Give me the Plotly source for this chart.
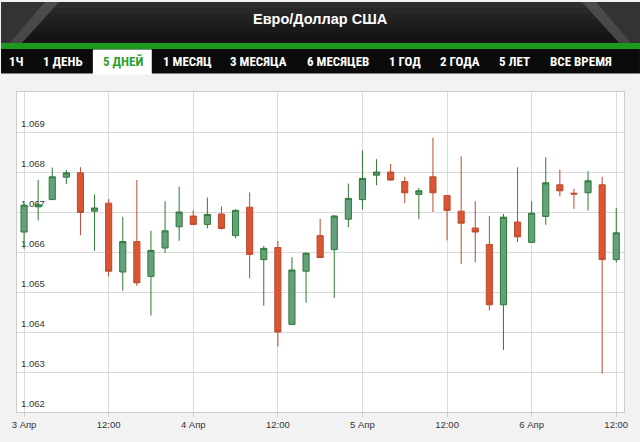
import plotly.graph_objects as go

# ---- data (2-hour candles, EUR/USD) ----
times = [
    "2017-04-03 00:00", "2017-04-03 02:00", "2017-04-03 04:00", "2017-04-03 06:00",
    "2017-04-03 08:00", "2017-04-03 10:00", "2017-04-03 12:00", "2017-04-03 14:00",
    "2017-04-03 16:00", "2017-04-03 18:00", "2017-04-03 20:00", "2017-04-03 22:00",
    "2017-04-04 00:00", "2017-04-04 02:00", "2017-04-04 04:00", "2017-04-04 06:00",
    "2017-04-04 08:00", "2017-04-04 10:00", "2017-04-04 12:00", "2017-04-04 14:00",
    "2017-04-04 16:00", "2017-04-04 18:00", "2017-04-04 20:00", "2017-04-04 22:00",
    "2017-04-05 00:00", "2017-04-05 02:00", "2017-04-05 04:00", "2017-04-05 06:00",
    "2017-04-05 08:00", "2017-04-05 10:00", "2017-04-05 12:00", "2017-04-05 14:00",
    "2017-04-05 16:00", "2017-04-05 18:00", "2017-04-05 20:00", "2017-04-05 22:00",
    "2017-04-06 00:00", "2017-04-06 02:00", "2017-04-06 04:00", "2017-04-06 06:00",
    "2017-04-06 08:00", "2017-04-06 10:00", "2017-04-06 12:00",
]
opens = [
    1.06650, 1.06713, 1.06731, 1.06787, 1.06798, 1.06702, 1.06722, 1.06550,
    1.06626, 1.06539, 1.06610, 1.06663, 1.06690, 1.06669, 1.06695, 1.06641,
    1.06712, 1.06581, 1.06611, 1.06419, 1.06552, 1.06641, 1.06606, 1.06682,
    1.06731, 1.06792, 1.06800, 1.06776, 1.06744, 1.06788, 1.06741, 1.06702,
    1.06660, 1.06619, 1.06468, 1.06675, 1.06624, 1.06689, 1.06768, 1.06747,
    1.06748, 1.06768, 1.06581,
]
highs = [
    1.06720, 1.06780, 1.06811, 1.06805, 1.06812, 1.06744, 1.06732, 1.06688,
    1.06780, 1.06653, 1.06727, 1.06763, 1.06704, 1.06736, 1.06714, 1.06707,
    1.06749, 1.06615, 1.06628, 1.06587, 1.06599, 1.06683, 1.06692, 1.06771,
    1.06854, 1.06832, 1.06820, 1.06788, 1.06760, 1.06886, 1.06742, 1.06839,
    1.06727, 1.06690, 1.06695, 1.06812, 1.06727, 1.06837, 1.06806, 1.06758,
    1.06802, 1.06788, 1.06710,
]
lows = [
    1.06608, 1.06679, 1.06730, 1.06770, 1.06642, 1.06603, 1.06539, 1.06503,
    1.06515, 1.06441, 1.06598, 1.06628, 1.06667, 1.06659, 1.06656, 1.06634,
    1.06534, 1.06466, 1.06364, 1.06419, 1.06473, 1.06585, 1.06485, 1.06662,
    1.06706, 1.06767, 1.06778, 1.06722, 1.06682, 1.06700, 1.06629, 1.06570,
    1.06574, 1.06454, 1.06355, 1.06625, 1.06624, 1.06668, 1.06739, 1.06708,
    1.06704, 1.06296, 1.06574,
]
closes = [
    1.06717, 1.06718, 1.06788, 1.06798, 1.06699, 1.06710, 1.06552, 1.06626,
    1.06523, 1.06604, 1.06653, 1.06700, 1.06669, 1.06694, 1.06659, 1.06704,
    1.06594, 1.06609, 1.06400, 1.06555, 1.06597, 1.06586, 1.06690, 1.06734,
    1.06784, 1.06800, 1.06780, 1.06748, 1.06753, 1.06748, 1.06704, 1.06672,
    1.06650, 1.06468, 1.06687, 1.06638, 1.06697, 1.06773, 1.06753, 1.06745,
    1.06778, 1.06581, 1.06648,
]

x_tick_vals = ["2017-04-03 00:00", "2017-04-03 12:00", "2017-04-04 00:00", "2017-04-04 12:00",
               "2017-04-05 00:00", "2017-04-05 12:00", "2017-04-06 00:00", "2017-04-06 12:00"]
x_tick_text = ["3 Апр", "12:00", "4 Апр", "12:00", "5 Апр", "12:00", "6 Апр", "12:00"]
y_tick_vals = [1.062, 1.063, 1.064, 1.065, 1.066, 1.067, 1.068, 1.069]
y_tick_text = ["1.062", "1.063", "1.064", "1.065", "1.066", "1.067", "1.068", "1.069"]

title_text = "Евро/Доллар США"
tabs = ["1Ч", "1 ДЕНЬ", "5 ДНЕЙ", "1 МЕСЯЦ", "3 МЕСЯЦА", "6 МЕСЯЦЕВ", "1 ГОД", "2 ГОДА", "5 ЛЕТ", "ВСЕ ВРЕМЯ"]
active_tab = "5 ДНЕЙ"

# ---- layout geometry (pixels) ----
W, H = 640, 442
L, R, T, B = 16, 624, 92, 419


def px(x):
    return (x - L) / (R - L)


def py(y):
    return (B - y) / (B - T)


fig = go.Figure()
fig.add_trace(go.Candlestick(
    x=times, open=opens, high=highs, low=lows, close=closes,
    increasing=dict(line=dict(color="#2e7a36", width=1), fillcolor="#63a07c"),
    decreasing=dict(line=dict(color="#bb4a2e", width=1), fillcolor="#dc5533"),
    whiskerwidth=0, hoverinfo="skip", showlegend=False,
))

shapes = []
# header dark band with vertical gradient
bands = ["#2e2e2e", "#282828", "#232323", "#1e1e1e", "#1a1a1a", "#161616", "#131313"]
bh = 43 / len(bands)
for i, c in enumerate(bands):
    shapes.append(dict(type="rect", xref="paper", yref="paper",
                       x0=px(0), x1=px(W), y0=py(i * bh), y1=py((i + 1) * bh + 0.5),
                       fillcolor=c, line=dict(width=0), layer="above"))
# bevelled corners
for pts in ([(0, 0), (58, 0), (20, 43), (0, 43)], [(W, 0), (W - 58, 0), (W - 20, 43), (W, 43)]):
    path = "M " + " L ".join(f"{px(a)},{py(b)}" for a, b in pts) + " Z"
    shapes.append(dict(type="path", xref="paper", yref="paper", path=path,
                       fillcolor="#585858", line=dict(width=0), layer="above", opacity=0.75))
for pts in ([(0, 0), (44, 0), (8, 43), (0, 43)], [(W, 0), (W - 44, 0), (W - 8, 43), (W, 43)]):
    path = "M " + " L ".join(f"{px(a)},{py(b)}" for a, b in pts) + " Z"
    shapes.append(dict(type="path", xref="paper", yref="paper", path=path,
                       fillcolor="#333333", line=dict(width=0), layer="above"))
# green stripe
shapes.append(dict(type="rect", xref="paper", yref="paper", x0=px(0), x1=px(W),
                   y0=py(42), y1=py(48), fillcolor="#1d9a1d", line=dict(width=0), layer="above"))
# tab bar
shapes.append(dict(type="rect", xref="paper", yref="paper", x0=px(0), x1=px(W),
                   y0=py(48), y1=py(73), fillcolor="#0b0b0b", line=dict(width=0), layer="above"))
# active tab
shapes.append(dict(type="rect", xref="paper", yref="paper", x0=px(92), x1=px(151),
                   y0=py(48.5), y1=py(74), fillcolor="#ffffff", line=dict(width=0), layer="above"))

annotations = [dict(text=f"<b>{title_text}</b>", xref="paper", yref="paper", x=px(320), y=py(17),
                    showarrow=False, xanchor="center", yanchor="middle",
                    font=dict(family="Liberation Sans, Arial, sans-serif", size=14.5, color="#ffffff"))]
tab_centers = [15.5, 62.5, 122, 186.5, 258, 338, 405, 460, 514, 581]
for t, cx in zip(tabs, tab_centers):
    annotations.append(dict(text=f"<b>{t}</b>", xref="paper", yref="paper", x=px(cx), y=py(61),
                            showarrow=False, xanchor="center", yanchor="middle",
                            font=dict(family="Liberation Sans Narrow, Arial Narrow, Roboto Condensed, DejaVu Sans Condensed, sans-serif",
                                      size=13, color="#2f9e2f" if t == active_tab else "#ffffff")))

fig.update_layout(
    width=W, height=H,
    margin=dict(l=L, r=W - R, t=T, b=H - B, pad=0),
    paper_bgcolor="#f2f2f2", plot_bgcolor="#ffffff",
    boxgap=0.38,
    shapes=shapes, annotations=annotations,
    xaxis=dict(
        type="date", range=["2017-04-02 23:00", "2017-04-06 13:06"],
        tickvals=x_tick_vals, ticktext=x_tick_text,
        showgrid=True, gridcolor="#dadada", gridwidth=1,
        ticks="outside", ticklen=4, tickcolor="#cccccc",
        tickfont=dict(family="Liberation Sans, Arial, sans-serif", size=9.5, color="#333333"),
        showline=True, linecolor="#cccccc", mirror=True,
        rangeslider=dict(visible=False), zeroline=False, fixedrange=True,
    ),
    yaxis=dict(
        range=[1.062, 1.070], tickvals=y_tick_vals, ticktext=y_tick_text,
        showgrid=True, gridcolor="#dadada", gridwidth=1,
        ticklabelposition="inside", ticklabelshift=-8, ticklabelstandoff=3,
        ticklabeloverflow="allow", layer="below traces",
        tickfont=dict(family="Liberation Sans, Arial, sans-serif", size=9.5, color="#333333"),
        showline=True, linecolor="#cccccc", mirror=True, zeroline=False, fixedrange=True,
    ),
)

fig.write_html("out.html", config={"displayModeBar": False},
               post_script="document.body.style.margin='0';document.body.style.overflow='hidden';")
